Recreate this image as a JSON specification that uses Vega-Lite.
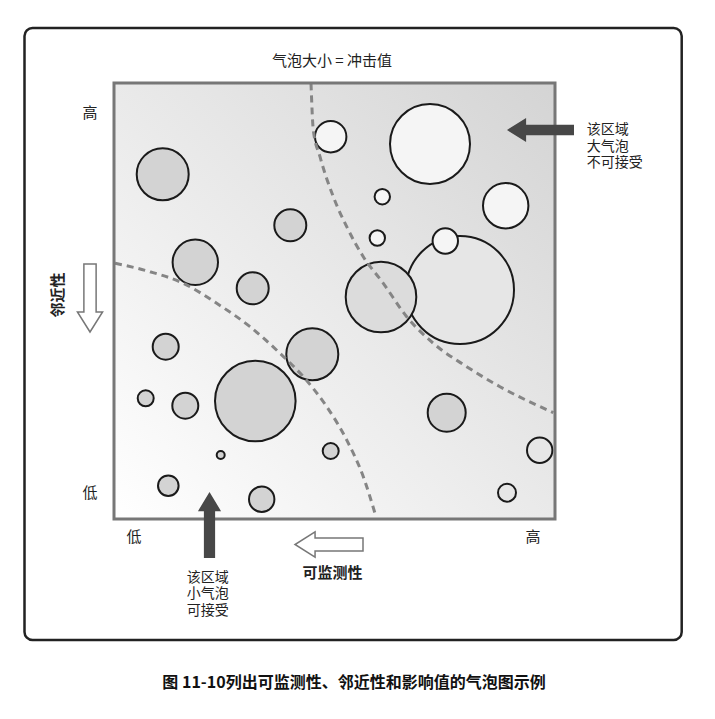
{
  "$schema": "https://vega.github.io/schema/vega-lite/v6.json",
  "width": 441,
  "height": 436,
  "autosize": {"type": "none"},
  "padding": {"left": 114, "top": 83, "right": 160, "bottom": 200},
  "background": "white",
  "view": {"stroke": null},
  "config": {"text": {"font": "Noto Sans CJK SC", "fontSize": 15, "color": "#222222", "baseline": "middle"}},
  "encoding": {
    "x": {"field": "x", "type": "quantitative", "scale": {"domain": [0, 441], "nice": false, "zero": false}, "axis": null},
    "y": {"field": "y", "type": "quantitative", "scale": {"domain": [0, 436], "nice": false, "zero": false}, "axis": null}
  },
  "layer": [
    {
      "data": {"values": [{"x": 0, "x2": 441, "y": 0, "y2": 436}]},
      "mark": {"type": "rect", "stroke": null, "fill": {"gradient": "linear", "x1": 0, "y1": 1, "x2": 1, "y2": 0, "stops": [{"offset": 0, "color": "#ffffff"}, {"offset": 1, "color": "#d4d4d4"}]}},
      "encoding": {"x2": {"field": "x2"}, "y2": {"field": "y2"}}
    },
    {
      "data": {"values": [
        {"i": 1, "x": 316, "y": 375, "r": 40, "g": "A"},
        {"i": 2, "x": 216.7, "y": 382.3, "r": 15.7, "g": "A"},
        {"i": 3, "x": 391.7, "y": 313.3, "r": 22.7, "g": "A"},
        {"i": 4, "x": 268.3, "y": 322.3, "r": 7.7, "g": "A"},
        {"i": 5, "x": 263.3, "y": 281, "r": 7.7, "g": "A"},
        {"i": 6, "x": 346, "y": 229, "r": 54, "g": "C"},
        {"i": 7, "x": 267, "y": 222, "r": 35.3, "g": "D"},
        {"i": 8, "x": 331.3, "y": 278, "r": 12.7, "g": "A"},
        {"i": 9, "x": 48.7, "y": 344.7, "r": 26, "g": "B"},
        {"i": 10, "x": 176.3, "y": 293.7, "r": 16, "g": "B"},
        {"i": 11, "x": 81.3, "y": 256.7, "r": 22.7, "g": "B"},
        {"i": 12, "x": 138.7, "y": 230.7, "r": 16, "g": "B"},
        {"i": 13, "x": 198.3, "y": 164.7, "r": 26, "g": "B"},
        {"i": 14, "x": 51.7, "y": 172.3, "r": 13, "g": "B"},
        {"i": 15, "x": 141.3, "y": 118, "r": 40.3, "g": "B"},
        {"i": 16, "x": 31.7, "y": 120.7, "r": 8, "g": "B"},
        {"i": 17, "x": 71.3, "y": 113.3, "r": 13, "g": "B"},
        {"i": 18, "x": 106.7, "y": 64, "r": 4, "g": "B"},
        {"i": 19, "x": 216.7, "y": 68, "r": 8, "g": "B"},
        {"i": 20, "x": 332.7, "y": 106.3, "r": 19, "g": "B"},
        {"i": 21, "x": 425.7, "y": 68.7, "r": 12.7, "g": "C"},
        {"i": 22, "x": 393, "y": 26.3, "r": 9, "g": "C"},
        {"i": 23, "x": 54.3, "y": 33.3, "r": 10.3, "g": "B"},
        {"i": 24, "x": 147.7, "y": 19.7, "r": 12.7, "g": "B"}
      ]},
      "mark": {"type": "circle", "opacity": 1, "stroke": "#1a1a1a", "strokeWidth": 2},
      "encoding": {
        "size": {"field": "r", "type": "quantitative", "scale": {"type": "pow", "exponent": 2, "domain": [0, 40], "range": [0, 6400]}, "legend": null},
        "fill": {"field": "g", "type": "nominal", "scale": {"domain": ["A", "B", "C", "D"], "range": ["#f5f5f5", "#d3d3d3", "#e6e6e6", "#dcdcdc"]}, "legend": null},
        "order": {"field": "i", "type": "quantitative"}
      }
    },
    {
      "data": {"values": [
        {"c": "A", "i": 1, "x": 197, "y": 435.7},
        {"c": "A", "i": 2, "x": 199.3, "y": 389},
        {"c": "A", "i": 3, "x": 206, "y": 362.3},
        {"c": "A", "i": 4, "x": 219.3, "y": 322.3},
        {"c": "A", "i": 5, "x": 232.7, "y": 292.3},
        {"c": "A", "i": 6, "x": 249.3, "y": 262.3},
        {"c": "A", "i": 7, "x": 269.3, "y": 235.7},
        {"c": "A", "i": 8, "x": 292.7, "y": 202.3},
        {"c": "A", "i": 9, "x": 319.3, "y": 175.7},
        {"c": "A", "i": 10, "x": 352.7, "y": 152.3},
        {"c": "A", "i": 11, "x": 386, "y": 132.3},
        {"c": "A", "i": 12, "x": 439.3, "y": 106.3},
        {"c": "B", "i": 1, "x": 1, "y": 255.7},
        {"c": "B", "i": 2, "x": 36, "y": 247.3},
        {"c": "B", "i": 3, "x": 69.3, "y": 235.7},
        {"c": "B", "i": 4, "x": 102.7, "y": 215.7},
        {"c": "B", "i": 5, "x": 136, "y": 192.3},
        {"c": "B", "i": 6, "x": 166, "y": 165.7},
        {"c": "B", "i": 7, "x": 189.3, "y": 142.3},
        {"c": "B", "i": 8, "x": 212.7, "y": 112.3},
        {"c": "B", "i": 9, "x": 232.7, "y": 79},
        {"c": "B", "i": 10, "x": 249.3, "y": 42.3},
        {"c": "B", "i": 11, "x": 262, "y": 2.3}
      ]},
      "mark": {"type": "line", "interpolate": "monotone", "color": "#858585", "strokeWidth": 3, "strokeDash": [7, 5]},
      "encoding": {"detail": {"field": "c"}, "order": {"field": "i", "type": "quantitative"}}
    },
    {
      "data": {"values": [{"x": 0, "x2": 441, "y": 0, "y2": 436}]},
      "mark": {"type": "rect", "fill": null, "fillOpacity": 0, "stroke": "#777777", "strokeWidth": 3},
      "encoding": {"x2": {"field": "x2"}, "y2": {"field": "y2"}}
    },
    {
      "data": {"values": [{"x": -24, "y": 221}]},
      "mark": {"type": "point", "filled": true, "opacity": 1, "fill": "#ffffff", "stroke": "#777777", "strokeWidth": 1.5, "size": 4624, "shape": "M-0.18,-1 L0.18,-1 L0.18,0.41 L0.37,0.41 L0,1 L-0.37,0.41 L-0.18,0.41 Z"}
    },
    {
      "data": {"values": [{"x": 215, "y": -25.5}]},
      "mark": {"type": "point", "filled": true, "opacity": 1, "fill": "#ffffff", "stroke": "#777777", "strokeWidth": 1.5, "size": 4624, "shape": "M1,-0.19 L-0.41,-0.19 L-0.41,-0.37 L-1,0 L-0.41,0.37 L-0.41,0.19 L1,0.19 Z"}
    },
    {
      "data": {"values": [{"x": 426.5, "y": 389}]},
      "mark": {"type": "point", "filled": true, "opacity": 1, "fill": "#474747", "strokeWidth": 0, "size": 4489, "shape": "M1,-0.16 L-0.43,-0.16 L-0.43,-0.36 L-1,0 L-0.43,0.36 L-0.43,0.16 L1,0.16 Z"}
    },
    {
      "data": {"values": [{"x": 95.5, "y": -6}]},
      "mark": {"type": "point", "filled": true, "opacity": 1, "fill": "#474747", "strokeWidth": 0, "size": 4356, "shape": "M-0.17,1 L-0.17,-0.42 L-0.35,-0.42 L0,-1 L0.35,-0.42 L0.17,-0.42 L0.17,1 Z"}
    },
    {
      "data": {"values": [
        {"x": 218, "y": 458, "t": "气泡大小 = 冲击值"},
        {"x": -24, "y": 406, "t": "高"},
        {"x": -24, "y": 26, "t": "低"},
        {"x": 20, "y": -18, "t": "低"},
        {"x": 419, "y": -18, "t": "高"}
      ]},
      "mark": {"type": "text", "align": "center"},
      "encoding": {"text": {"field": "t"}}
    },
    {
      "data": {"values": [
        {"x": 472.7, "y": 389, "t": "该区域\n大气泡\n不可接受"},
        {"x": 72.7, "y": -58.7, "t": "该区域\n小气泡\n可接受"}
      ]},
      "mark": {"type": "text", "align": "left", "fontSize": 14, "lineBreak": "\n", "lineHeight": 16.7},
      "encoding": {"text": {"field": "t"}}
    },
    {
      "data": {"values": [
        {"x": 218.5, "y": -54.3, "t": "可监测性"}
      ]},
      "mark": {"type": "text", "align": "center", "fontWeight": "bold"},
      "encoding": {"text": {"field": "t"}}
    },
    {
      "data": {"values": [
        {"x": 240, "y": -163.7, "t": "图 11-10列出可监测性、邻近性和影响值的气泡图示例"}
      ]},
      "mark": {"type": "text", "align": "center", "fontWeight": "bold", "fontSize": 16, "color": "#111111"},
      "encoding": {"text": {"field": "t"}}
    },
    {
      "data": {"values": [
        {"x": -56, "y": 224, "t": "邻近性"}
      ]},
      "mark": {"type": "text", "align": "center", "fontWeight": "bold", "angle": 270},
      "encoding": {"text": {"field": "t"}}
    },
    {
      "data": {"values": [{"x": -89.5, "x2": 567.7, "y": -121, "y2": 491}]},
      "mark": {"type": "rect", "fill": null, "fillOpacity": 0, "stroke": "#222222", "strokeWidth": 2.5, "cornerRadius": 8},
      "encoding": {"x2": {"field": "x2"}, "y2": {"field": "y2"}}
    }
  ]
}
